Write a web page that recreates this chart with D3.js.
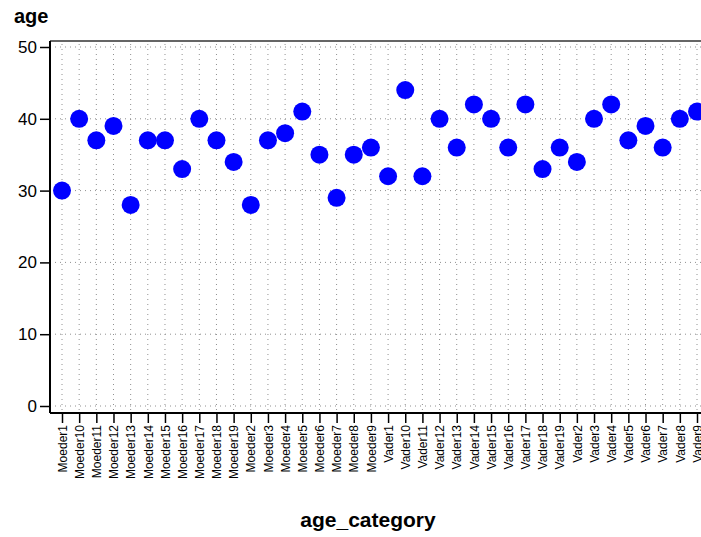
<!DOCTYPE html>
<html><head><meta charset="utf-8">
<script src="https://cdn.jsdelivr.net/npm/d3@7"></script>
<style>body{margin:0;background:#fff}svg{display:block}</style>
</head><body>
<svg id="c" width="701" height="537"></svg>
<script>
const categories = ["Moeder1","Moeder10","Moeder11","Moeder12","Moeder13","Moeder14","Moeder15","Moeder16","Moeder17","Moeder18","Moeder19","Moeder2","Moeder3","Moeder4","Moeder5","Moeder6","Moeder7","Moeder8","Moeder9","Vader1","Vader10","Vader11","Vader12","Vader13","Vader14","Vader15","Vader16","Vader17","Vader18","Vader19","Vader2","Vader3","Vader4","Vader5","Vader6","Vader7","Vader8","Vader9"];
const ages = [30,40,37,39,28,37,37,33,40,37,34,28,37,38,41,35,29,35,36,32,44,32,40,36,42,40,36,42,33,36,34,40,42,37,39,36,40,41];
const yTicks = [0,10,20,30,40,50];

const svg = d3.select("#c");
const x = d3.scalePoint().domain(categories).range([62, 697]);
const y = d3.scaleLinear().domain([0, 50]).range([406, 47]);
const pLeft = 50, pTop = 41, pBottom = 413, pRight = 701;

// grid
const g = svg.append("g");
g.selectAll("line.v").data(categories).join("line")
  .attr("x1", d => x(d)).attr("x2", d => x(d)).attr("y1", pTop + 3).attr("y2", pBottom)
  .attr("stroke", "#909090").attr("stroke-width", 1).attr("stroke-dasharray", "1,4");
g.selectAll("line.h").data(yTicks).join("line")
  .attr("x1", pLeft).attr("x2", pRight).attr("y1", d => y(d)).attr("y2", d => y(d))
  .attr("stroke", "#909090").attr("stroke-width", 1).attr("stroke-dasharray", "1,4");

// frame top
svg.append("line").attr("x1", pLeft).attr("x2", pRight).attr("y1", pTop).attr("y2", pTop)
  .attr("stroke", "#333").attr("stroke-width", 1.5);

// points
svg.selectAll("circle").data(categories).join("circle")
  .attr("cx", d => x(d)).attr("cy", (d, i) => y(ages[i])).attr("r", 9)
  .attr("fill", "#0000ff");

// y axis
const ya = svg.append("g").attr("transform", `translate(${pLeft},0)`)
  .call(d3.axisLeft(y).tickValues(yTicks).tickSize(10).tickPadding(3).tickFormat(d3.format("d")));
ya.select(".domain").remove();
ya.selectAll(".tick line").attr("stroke", "#000").attr("stroke-width", 1.5);
ya.selectAll("text").attr("font-family", "Arial, Liberation Sans, sans-serif").attr("font-size", 17).attr("fill", "#000");
svg.append("line").attr("x1", pLeft).attr("x2", pLeft).attr("y1", pTop).attr("y2", pBottom)
  .attr("stroke", "#000").attr("stroke-width", 2);

// x axis
const xa = svg.append("g").attr("transform", `translate(0,${pBottom})`)
  .call(d3.axisBottom(x).tickSize(10).tickPadding(3));
xa.select(".domain").remove();
xa.selectAll(".tick line").attr("stroke", "#000").attr("stroke-width", 1.5);
xa.selectAll("text")
  .attr("font-family", "Arial, Liberation Sans, sans-serif").attr("font-size", 12).attr("fill", "#000")
  .attr("transform", "rotate(-90)").attr("text-anchor", "end")
  .attr("x", -12).attr("y", 0).attr("dy", "0.35em");
svg.append("line").attr("x1", pLeft).attr("x2", pRight).attr("y1", pBottom).attr("y2", pBottom)
  .attr("stroke", "#000").attr("stroke-width", 2);

// titles
svg.append("text").attr("x", 14).attr("y", 23).text("age")
  .attr("font-family", "Arial, Liberation Sans, sans-serif").attr("font-weight", "bold").attr("font-size", 20);
svg.append("text").attr("x", 368).attr("y", 527).attr("text-anchor", "middle").text("age_category")
  .attr("font-family", "Arial, Liberation Sans, sans-serif").attr("font-weight", "bold").attr("font-size", 21);
</script>
</body></html>
